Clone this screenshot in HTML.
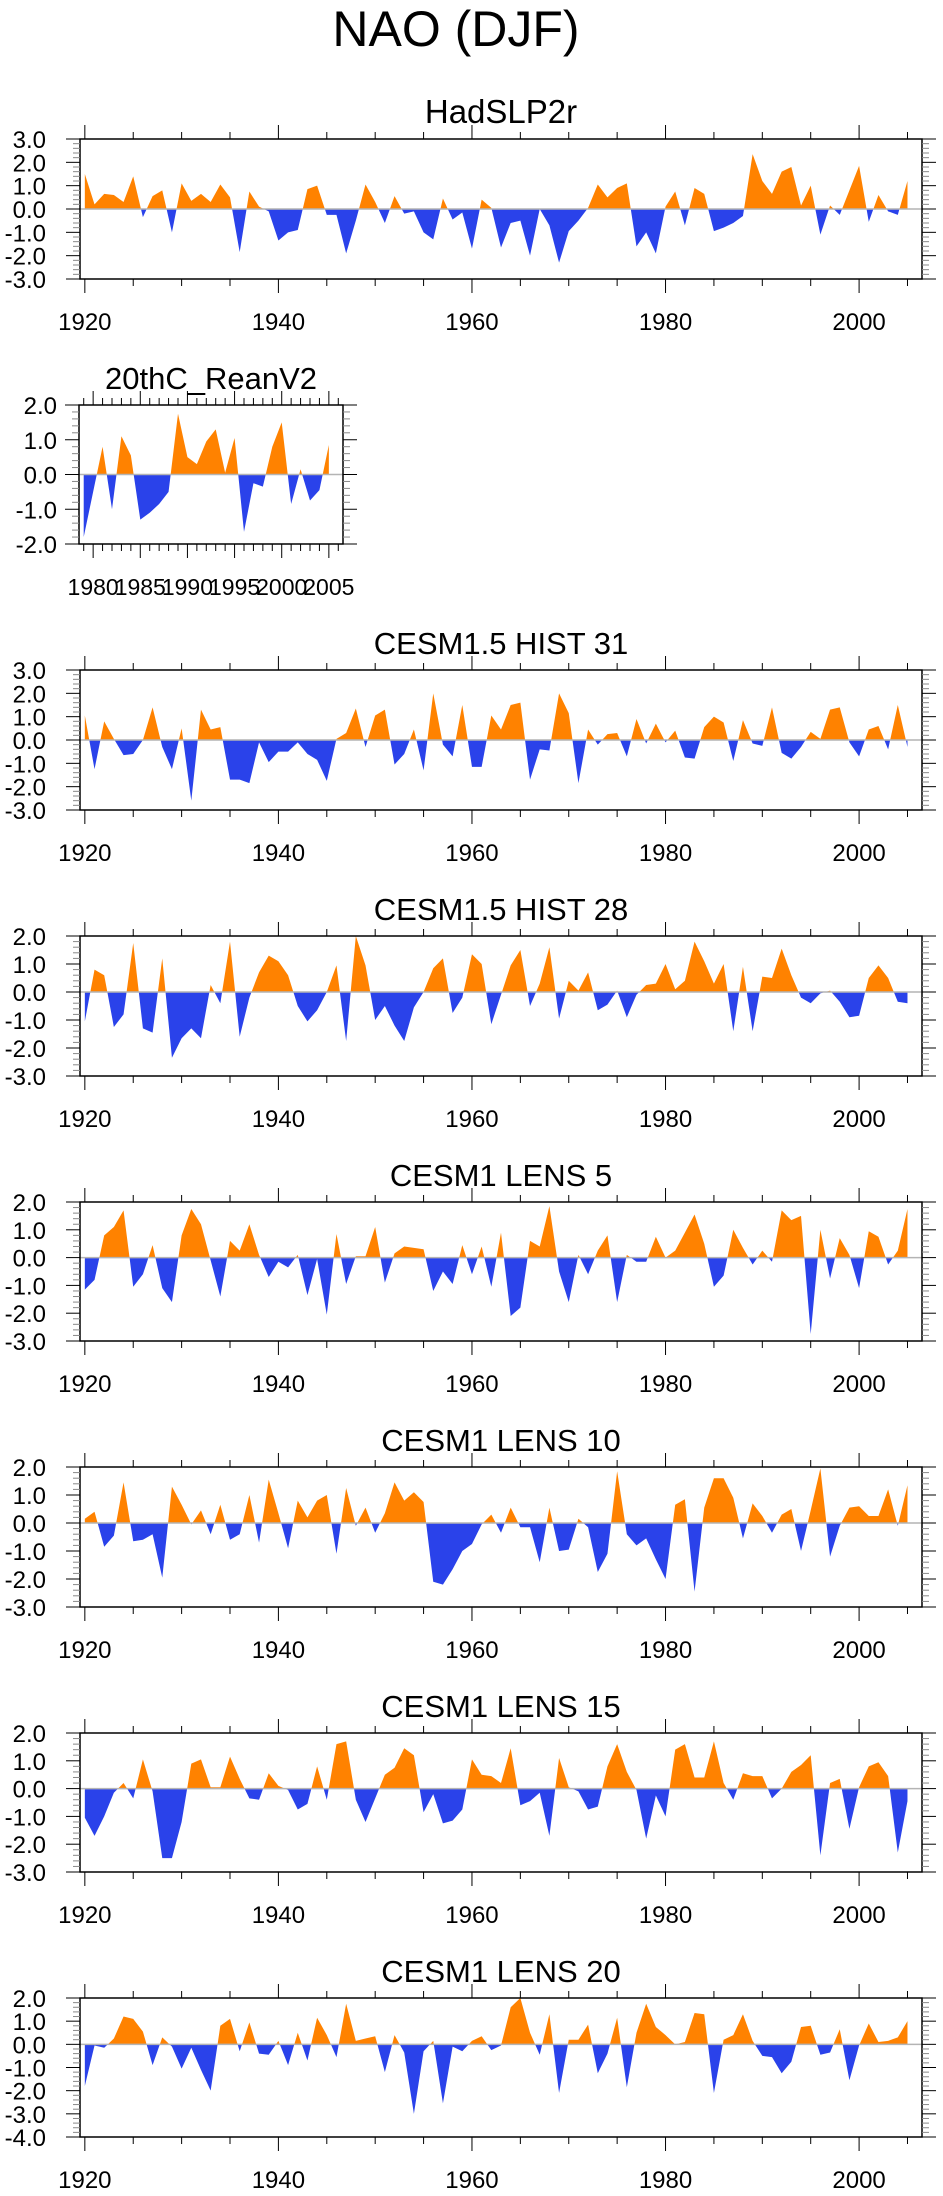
<!DOCTYPE html>
<html><head><meta charset="utf-8"><title>NAO (DJF)</title>
<style>
html,body{margin:0;padding:0;background:#fff;}
svg{display:block;font-family:"Liberation Sans",Arial,sans-serif;}
</style></head>
<body>
<svg id="chart" width="943" height="2196" viewBox="0 0 943 2196" xmlns="http://www.w3.org/2000/svg">
<text x="456" y="46" font-size="50" text-anchor="middle" fill="#000">NAO (DJF)</text>
</svg>
<script>
const hadslp2r = [1.5,0.2,0.65,0.6,0.3,1.4,-0.35,0.55,0.8,-1.0,1.1,0.35,0.65,0.3,1.05,0.5,-1.85,0.75,0.1,-0.1,-1.35,-1.0,-0.9,0.85,1.0,-0.25,-0.25,-1.9,-0.5,1.05,0.3,-0.6,0.55,-0.2,-0.1,-1.0,-1.3,0.45,-0.45,-0.15,-1.7,0.4,0.05,-1.65,-0.6,-0.5,-2.0,0.0,-0.7,-2.3,-0.95,-0.5,0.05,1.05,0.5,0.9,1.1,-1.6,-1.0,-1.9,0.1,0.75,-0.7,0.9,0.65,-0.95,-0.8,-0.6,-0.3,2.35,1.2,0.65,1.6,1.8,0.15,1.0,-1.1,0.15,-0.25,0.8,1.85,-0.55,0.6,-0.1,-0.25,1.2];
const reanv2 = [-1.8,-0.5,0.8,-1.0,1.1,0.55,-1.3,-1.1,-0.85,-0.5,1.75,0.5,0.3,0.95,1.3,0.05,1.05,-1.65,-0.25,-0.35,0.8,1.5,-0.85,0.15,-0.75,-0.45,0.85];
const hist31 = [1.05,-1.25,0.8,0.05,-0.65,-0.6,0.0,1.4,-0.3,-1.25,0.5,-2.6,1.3,0.45,0.55,-1.7,-1.7,-1.85,-0.1,-0.95,-0.5,-0.5,-0.1,-0.6,-0.85,-1.75,0.05,0.3,1.35,-0.3,1.05,1.3,-1.05,-0.6,0.45,-1.3,2.0,-0.2,-0.7,1.5,-1.15,-1.15,1.05,0.45,1.5,1.6,-1.7,-0.4,-0.45,2.0,1.15,-1.85,0.45,-0.2,0.25,0.3,-0.7,0.9,-0.15,0.7,-0.1,0.4,-0.75,-0.8,0.55,1.0,0.75,-0.9,0.85,-0.15,-0.25,1.4,-0.55,-0.8,-0.3,0.35,0.05,1.3,1.4,-0.1,-0.7,0.45,0.6,-0.4,1.5,-0.3];
const hist28 = [-1.05,0.8,0.6,-1.25,-0.8,1.75,-1.3,-1.45,1.2,-2.35,-1.65,-1.3,-1.65,0.25,-0.4,1.8,-1.6,-0.2,0.7,1.3,1.1,0.6,-0.5,-1.05,-0.65,0.0,0.95,-1.75,2.0,0.95,-1.0,-0.5,-1.2,-1.75,-0.55,0.0,0.85,1.2,-0.75,-0.2,1.35,1.0,-1.15,-0.1,0.95,1.5,-0.5,0.3,1.6,-0.95,0.4,0.05,0.7,-0.65,-0.45,0.05,-0.9,-0.1,0.25,0.3,1.0,0.1,0.4,1.8,1.1,0.3,1.0,-1.4,0.9,-1.4,0.55,0.5,1.55,0.6,-0.2,-0.4,-0.05,0.05,-0.35,-0.9,-0.85,0.5,0.95,0.5,-0.35,-0.4];
const lens5 = [-1.15,-0.8,0.8,1.1,1.7,-1.05,-0.6,0.45,-1.1,-1.6,0.8,1.75,1.2,-0.1,-1.4,0.6,0.25,1.2,0.1,-0.7,-0.15,-0.35,0.1,-1.35,-0.05,-2.05,0.85,-0.95,0.05,0.05,1.1,-0.9,0.15,0.4,0.35,0.3,-1.2,-0.5,-0.95,0.45,-0.6,0.4,-1.05,0.9,-2.1,-1.8,0.6,0.4,1.85,-0.5,-1.6,0.1,-0.6,0.25,0.8,-1.6,0.1,-0.15,-0.15,0.75,0.0,0.25,0.9,1.55,0.5,-1.05,-0.65,1.0,0.35,-0.25,0.25,-0.15,1.7,1.35,1.5,-2.75,1.0,-0.75,0.7,0.1,-1.1,0.95,0.75,-0.25,0.25,1.75];
const lens10 = [0.15,0.4,-0.85,-0.45,1.45,-0.65,-0.6,-0.4,-1.95,1.3,0.65,-0.05,0.45,-0.4,0.65,-0.6,-0.4,1.0,-0.7,1.55,0.35,-0.9,0.8,0.2,0.8,1.0,-1.1,1.25,-0.1,0.55,-0.35,0.35,1.45,0.8,1.1,0.75,-2.1,-2.2,-1.65,-1.0,-0.75,-0.05,0.3,-0.35,0.55,-0.15,-0.15,-1.4,0.55,-1.0,-0.95,0.15,-0.15,-1.75,-1.1,1.85,-0.4,-0.8,-0.55,-1.3,-2.0,0.65,0.85,-2.45,0.55,1.6,1.6,0.9,-0.55,0.7,0.25,-0.35,0.3,0.5,-1.0,0.45,1.95,-1.2,-0.1,0.55,0.6,0.25,0.25,1.2,-0.1,1.35];
const lens15 = [-1.05,-1.7,-1.0,-0.15,0.2,-0.35,1.05,-0.1,-2.5,-2.5,-1.2,0.9,1.05,0.05,0.05,1.15,0.35,-0.35,-0.4,0.55,0.1,-0.05,-0.75,-0.55,0.8,-0.4,1.6,1.7,-0.4,-1.2,-0.35,0.5,0.75,1.45,1.2,-0.85,-0.2,-1.25,-1.15,-0.75,1.05,0.5,0.45,0.2,1.45,-0.6,-0.45,-0.15,-1.7,1.1,0.05,-0.1,-0.75,-0.65,0.8,1.6,0.6,-0.05,-1.8,-0.25,-1.0,1.4,1.6,0.4,0.4,1.7,0.2,-0.4,0.55,0.45,0.45,-0.35,0.0,0.6,0.85,1.2,-2.4,0.2,0.35,-1.45,0.05,0.8,0.95,0.45,-2.3,-0.45];
const lens20 = [-1.8,-0.05,-0.15,0.25,1.2,1.1,0.55,-0.9,0.3,-0.1,-1.05,-0.15,-1.1,-2.0,0.8,1.1,-0.3,0.95,-0.4,-0.45,0.15,-0.9,0.5,-0.7,1.15,0.4,-0.55,1.75,0.15,0.25,0.35,-1.2,0.4,-0.35,-3.0,-0.3,0.15,-2.55,-0.1,-0.3,0.15,0.35,-0.25,-0.05,1.6,2.0,0.5,-0.45,1.3,-2.1,0.2,0.2,0.85,-1.25,-0.4,1.15,-1.85,0.5,1.75,0.75,0.4,0.0,0.1,1.35,1.3,-2.1,0.2,0.4,1.3,0.15,-0.5,-0.55,-1.25,-0.75,0.75,0.8,-0.45,-0.35,0.65,-1.55,-0.05,0.9,0.1,0.15,0.3,1.0];
const panelTitles = ["HadSLP2r","20thC_ReanV2","CESM1.5 HIST 31","CESM1.5 HIST 28","CESM1 LENS 5","CESM1 LENS 10","CESM1 LENS 15","CESM1 LENS 20"];
const startYears = [1920,1979,1920,1920,1920,1920,1920,1920];
const yMins = [-3,-2,-3,-3,-3,-3,-3,-4];
const yMaxs = [3,2,3,2,2,2,2,2];

const NS = "http://www.w3.org/2000/svg";
const svg = document.getElementById('chart');
const ORANGE = "#FF8200", BLUE = "#2A42EA";
function mk(tag, attrs, parent){const e=document.createElementNS(NS,tag);for(const k in attrs)e.setAttribute(k,attrs[k]);(parent||svg).appendChild(e);return e;}

const layouts = [
 {x0:80,x1:922,y0:139,y1:279,xmin:1919.5,xmax:2006.5,major:20,minor:5,lab:46,fs:24,tfs:33},
 {x0:79,x1:343,y0:405,y1:544,xmin:1978.5,xmax:2006.5,major:5,minor:1,lab:57,fs:23,tfs:31},
 {x0:80,x1:922,y0:670,y1:810,xmin:1919.5,xmax:2006.5,major:20,minor:5,lab:46,fs:24,tfs:31},
 {x0:80,x1:922,y0:936,y1:1076,xmin:1919.5,xmax:2006.5,major:20,minor:5,lab:46,fs:24,tfs:31},
 {x0:80,x1:922,y0:1202,y1:1341,xmin:1919.5,xmax:2006.5,major:20,minor:5,lab:46,fs:24,tfs:31},
 {x0:80,x1:922,y0:1467,y1:1607,xmin:1919.5,xmax:2006.5,major:20,minor:5,lab:46,fs:24,tfs:31},
 {x0:80,x1:922,y0:1733,y1:1872,xmin:1919.5,xmax:2006.5,major:20,minor:5,lab:46,fs:24,tfs:31},
 {x0:80,x1:922,y0:1998,y1:2137,xmin:1919.5,xmax:2006.5,major:20,minor:5,lab:46,fs:24,tfs:31}
];
const series = [hadslp2r,reanv2,hist31,hist28,lens5,lens10,lens15,lens20];

series.forEach((vals,p)=>{
  const L = layouts[p];
  const ymin = yMins[p], ymax = yMaxs[p];
  const xs = yr => L.x0 + (yr - L.xmin)/(L.xmax - L.xmin)*(L.x1 - L.x0);
  const ys = v => L.y1 - (v - ymin)/(ymax - ymin)*(L.y1 - L.y0);
  const g = mk('g',{});
  
  
  const t = mk('text',{x:(L.x0+L.x1)/2, y:L.y0-16, 'font-size':L.tfs, 'text-anchor':'middle', fill:'#000'}, g);
  t.textContent = panelTitles[p];
  
  
  const y0 = ys(0);
  const sy = startYears[p];
  let d = 'M' + xs(sy) + ',' + y0;
  vals.forEach((v,i)=>{ d += ' L' + xs(sy+i).toFixed(2) + ',' + ys(v).toFixed(2); });
  d += ' L' + xs(sy+vals.length-1) + ',' + y0 + ' Z';
  const cpU = mk('clipPath',{id:'cu'+p}, g); mk('rect',{x:L.x0,y:L.y0,width:L.x1-L.x0,height:y0-L.y0},cpU);
  const cpD = mk('clipPath',{id:'cd'+p}, g); mk('rect',{x:L.x0,y:y0,width:L.x1-L.x0,height:L.y1-y0},cpD);
  const pos = mk('path',{d:d, fill:ORANGE, 'clip-path':'url(#cu'+p+')'}, g);
  
  
  const neg = mk('path',{d:d, fill:BLUE, 'clip-path':'url(#cd'+p+')'}, g);
  
  
  const zl = mk('line',{x1:L.x0,x2:L.x1,y1:y0,y2:y0,stroke:'#b4b4b4','stroke-width':1.5}, g);
  
  
  const fr = mk('rect',{x:L.x0,y:L.y0,width:L.x1-L.x0,height:L.y1-L.y0,fill:'none',stroke:'#000','stroke-width':1.5}, g);
  
  
  for (let yr = Math.ceil(L.xmin); yr <= L.xmax; yr++) {
    if (yr % L.minor !== 0) continue;
    const isMaj = yr % L.major === 0;
    const len = isMaj ? 14 : 7;
    const x = xs(yr);
    mk('line',{x1:x,x2:x,y1:L.y1,y2:L.y1+len,stroke:'#000','stroke-width':1}, g);
    mk('line',{x1:x,x2:x,y1:L.y0,y2:L.y0-len,stroke:'#000','stroke-width':1}, g);
    if (isMaj) {
      const lt = mk('text',{x:x, y:L.y1+51, 'font-size':L.fs, 'text-anchor':'middle', fill:'#000'}, g);
      lt.textContent = String(yr);
      
      
    }
  }
  for (let k = Math.round(ymin*5); k <= Math.round(ymax*5); k++) {
    const v = k/5, y = ys(v);
    const isMaj = k % 5 === 0;
    const len = isMaj ? 14 : 7;
    mk('line',{x1:L.x0,x2:L.x0-len,y1:y,y2:y,stroke:isMaj?'#000':'#888','stroke-width':1}, g);
    mk('line',{x1:L.x1,x2:L.x1+len,y1:y,y2:y,stroke:isMaj?'#000':'#888','stroke-width':1}, g);
    if (isMaj) {
      const yt = mk('text',{x:L.lab, y:y+9, 'font-size':24, 'text-anchor':'end', fill:'#000'}, g);
      yt.textContent = v.toFixed(1);
      
      
    }
  }
});
</script>
</body></html>
